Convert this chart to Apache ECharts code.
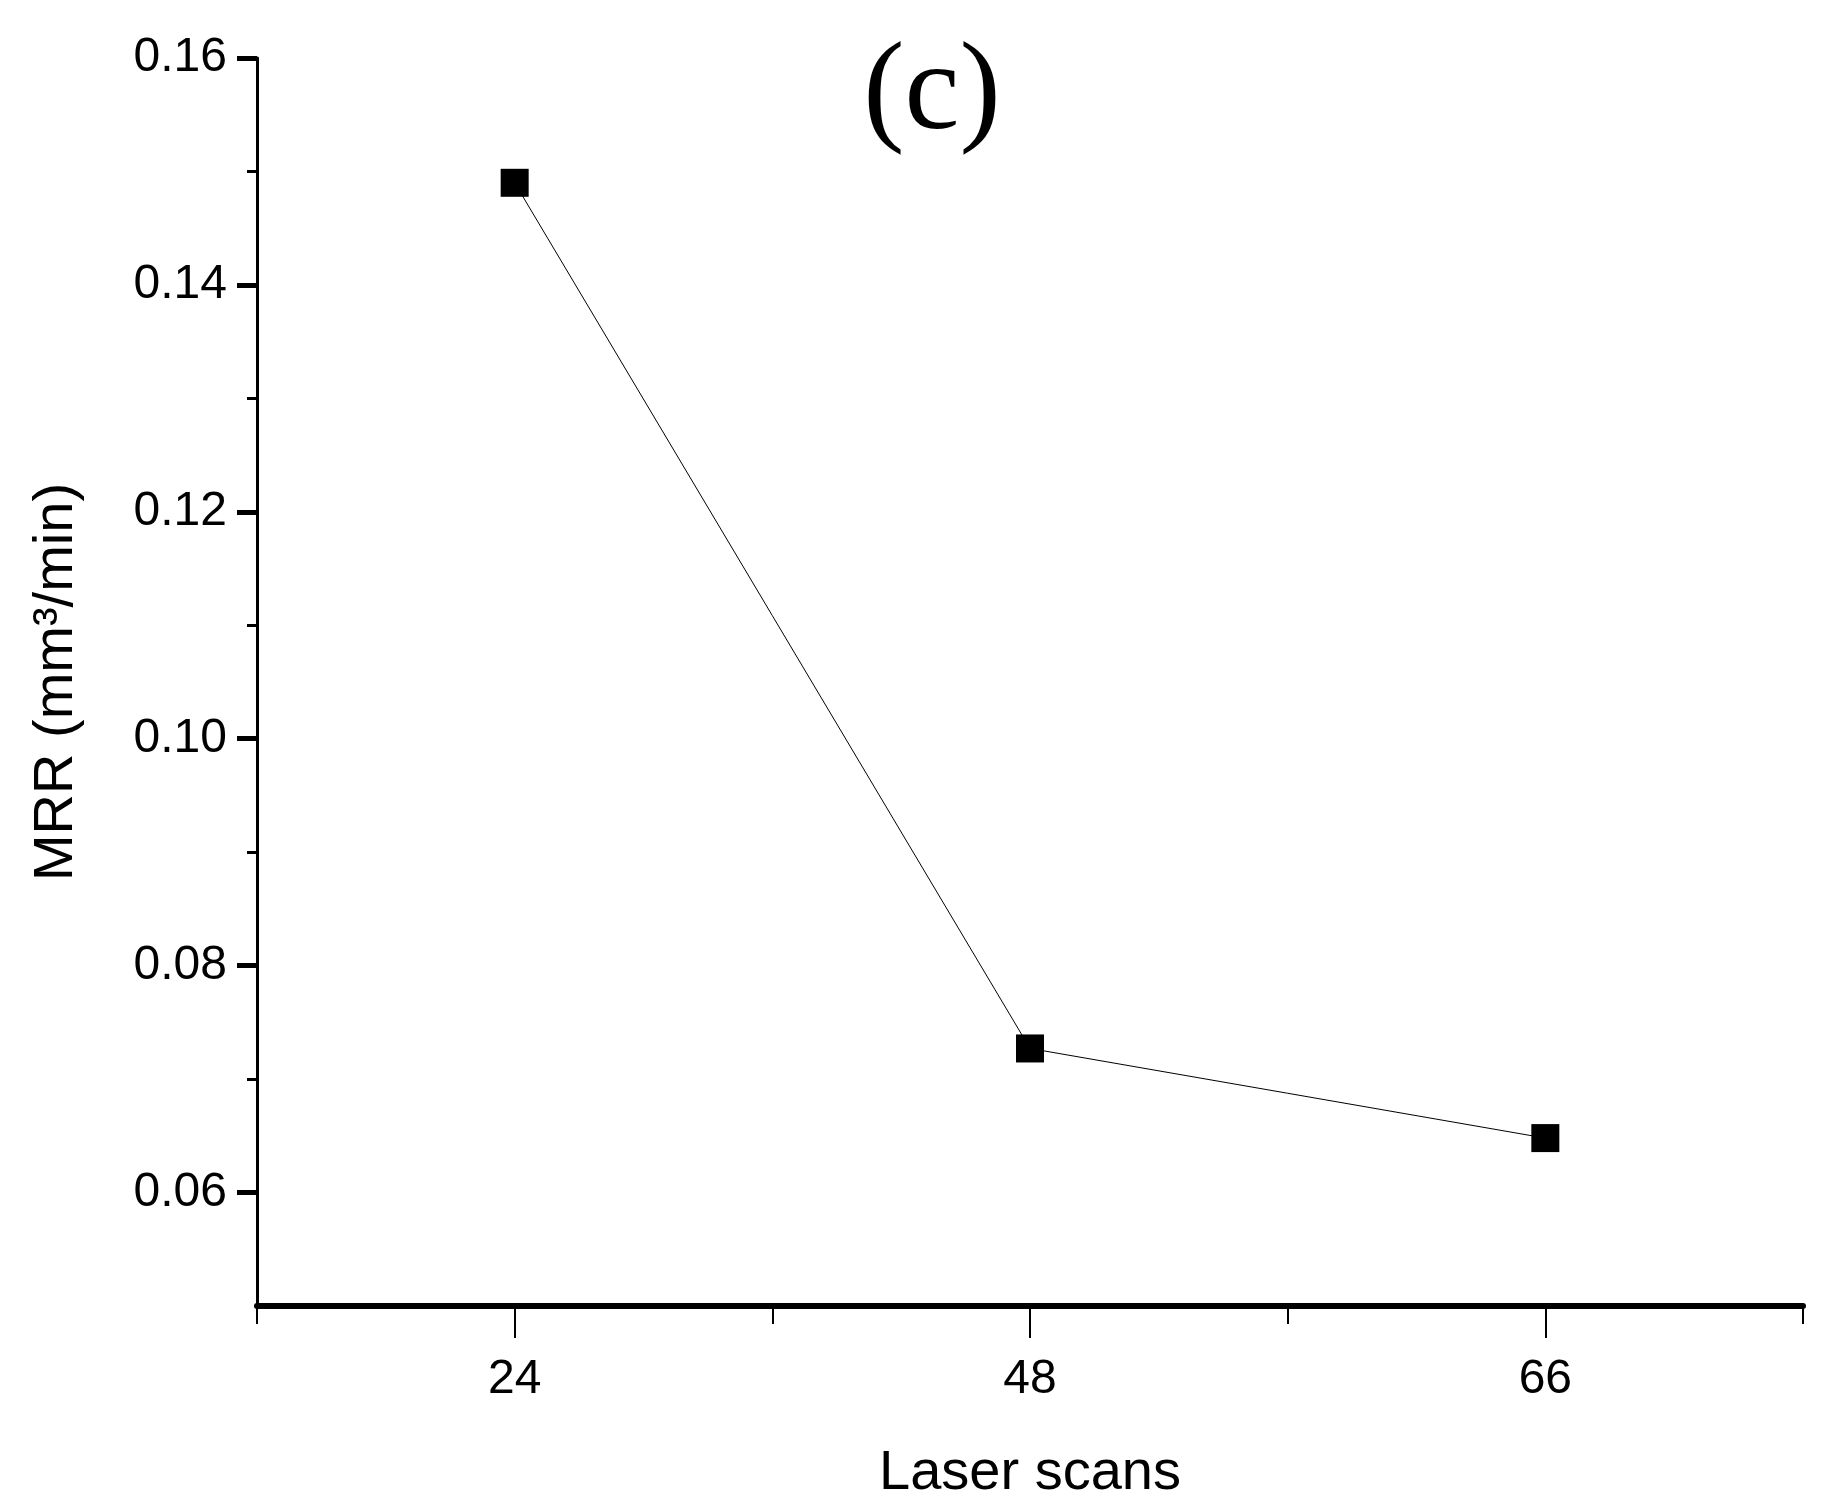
<!DOCTYPE html>
<html>
<head>
    <meta charset="utf-8">
    <script src="https://cdn.jsdelivr.net/npm/echarts@6/dist/echarts.min.js"></script>
</head>
<body style="margin:0;background:#fff">
    <div id="main" style="width:1824px;height:1510px;"></div>
    <script>
        const categories = ['24', '48', '66'];
        const mrr = [0.149, 0.0727, 0.0648];
        const yLabels = [0.06, 0.08, 0.10, 0.12, 0.14, 0.16];

        const chart = echarts.init(document.getElementById('main'));
        const font = "'Liberation Sans', Arial, sans-serif";
        chart.setOption({
            animation: false,
            title: {
                text: '(c)', left: 927, top: 28, textAlign: 'center',
                textStyle: { fontFamily: "'Liberation Serif', 'Times New Roman', serif", fontSize: 124, fontWeight: 'normal', color: '#000' }
            },
            grid: { left: 257, right: 21, top: 58, bottom: 204 },
            xAxis: [{
                type: 'value', min: 0.5, max: 3.5,
                name: 'Laser scans', nameLocation: 'middle', nameGap: 140,
                nameTextStyle: { fontFamily: font, fontSize: 56, color: '#000' },
                axisLine: { lineStyle: { color: '#000', width: 6 } },
                axisTick: { customValues: [1, 2, 3], length: 32, lineStyle: { color: '#000', width: 2 } },
                axisLabel: { customValues: [1, 2, 3], margin: 50, fontFamily: font, fontSize: 48, color: '#000',
                    formatter: v => categories[Math.round(v) - 1] },
                splitLine: { show: false }
            }, {
                type: 'value', min: 0.5, max: 3.5, position: 'bottom',
                axisLine: { show: false },
                axisTick: { customValues: [0.5, 1.5, 2.5, 3.5], length: 18, lineStyle: { color: '#000', width: 2 } },
                axisLabel: { show: false }, splitLine: { show: false }
            }],
            yAxis: [{
                type: 'value', min: 0.05, max: 0.16,
                name: 'MRR (mm³/min)', nameLocation: 'middle', nameGap: 172,
                nameTextStyle: { fontFamily: font, fontSize: 56, color: '#000' },
                axisLine: { show: true, lineStyle: { color: '#000', width: 3 } },
                axisTick: { customValues: yLabels, length: 20, lineStyle: { color: '#000', width: 5 } },
                axisLabel: { customValues: yLabels, margin: 30, fontFamily: font, fontSize: 48, color: '#000',
                    formatter: v => v.toFixed(2) },
                splitLine: { show: false }
            }, {
                type: 'value', min: 0.05, max: 0.16, position: 'left',
                axisLine: { show: false },
                axisTick: { show: true, customValues: [0.07, 0.09, 0.11, 0.13, 0.15], length: 10, lineStyle: { color: '#000', width: 3 } },
                axisLabel: { show: false }, splitLine: { show: false }
            }],
            series: [{
                type: 'line',
                data: mrr.map((v, i) => [i + 1, v]),
                symbol: 'rect', symbolSize: 28,
                itemStyle: { color: '#000' },
                lineStyle: { color: '#000', width: 1 }
            }]
        });
    </script>
</body>
</html>
